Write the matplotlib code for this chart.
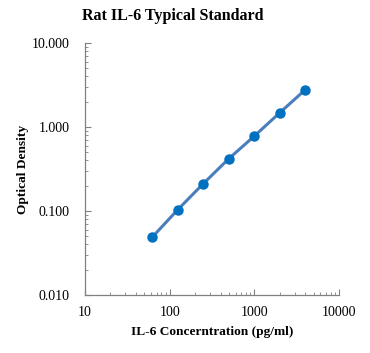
import numpy as np
import matplotlib.pyplot as plt
from matplotlib.ticker import LogLocator, FixedLocator, NullFormatter

conc = [62.5, 125, 250, 500, 1000, 2000, 4000]
od = [0.049, 0.104, 0.212, 0.42, 0.78, 1.48, 2.78]
xticks = [10, 100, 1000, 10000]
xtick_labels = ['10', '100', '1000', '10000']
yticks = [0.01, 0.1, 1, 10]
ytick_labels = ['0.010', '0.100', '1.000', '10.000']

plt.rcParams['font.family'] = ['Liberation Serif', 'DejaVu Serif']

fig = plt.figure(figsize=(3.7, 3.53), dpi=100)
ax = fig.add_axes([0.2297, 0.1643, 0.6865, 0.7139])

ax.plot(conc, od, color='#4a7ebb', linewidth=2.2, marker='o',
        markersize=6.5, markerfacecolor='#0070c0', markeredgecolor='#0070c0')

ax.set_xscale('log')
ax.set_yscale('log')
ax.set_xlim(10, 10000)
ax.set_ylim(0.01, 10)
ax.xaxis.set_major_locator(FixedLocator(xticks))
ax.set_xticklabels(xtick_labels)
ax.yaxis.set_major_locator(FixedLocator(yticks))
ax.set_yticklabels(ytick_labels)
ax.xaxis.set_minor_locator(LogLocator(base=10, subs=np.arange(2, 10)))
ax.yaxis.set_minor_locator(LogLocator(base=10, subs=np.arange(2, 10)))
ax.xaxis.set_minor_formatter(NullFormatter())
ax.yaxis.set_minor_formatter(NullFormatter())

for s in ['top', 'right']:
    ax.spines[s].set_visible(False)
for s in ['left', 'bottom']:
    ax.spines[s].set_color('#808080')
    ax.spines[s].set_linewidth(0.9)

ax.tick_params(which='major', direction='in', length=4, color='#808080',
               labelsize=10, pad=11)
ax.tick_params(axis='x', which='major', pad=8)
ax.tick_params(which='minor', direction='in', length=2.5, color='#808080')

ax.set_xlabel('IL-6 Concerntration (pg/ml)', fontsize=9.6, fontweight='bold', labelpad=5)
ax.set_ylabel('Optical Density', fontsize=9.6, fontweight='bold', labelpad=2)
fig.text(0.468, 0.955, 'Rat IL-6 Typical Standard', fontsize=11.5,
         fontweight='bold', ha='center', va='center')

fig.savefig('out.png', dpi=100)
